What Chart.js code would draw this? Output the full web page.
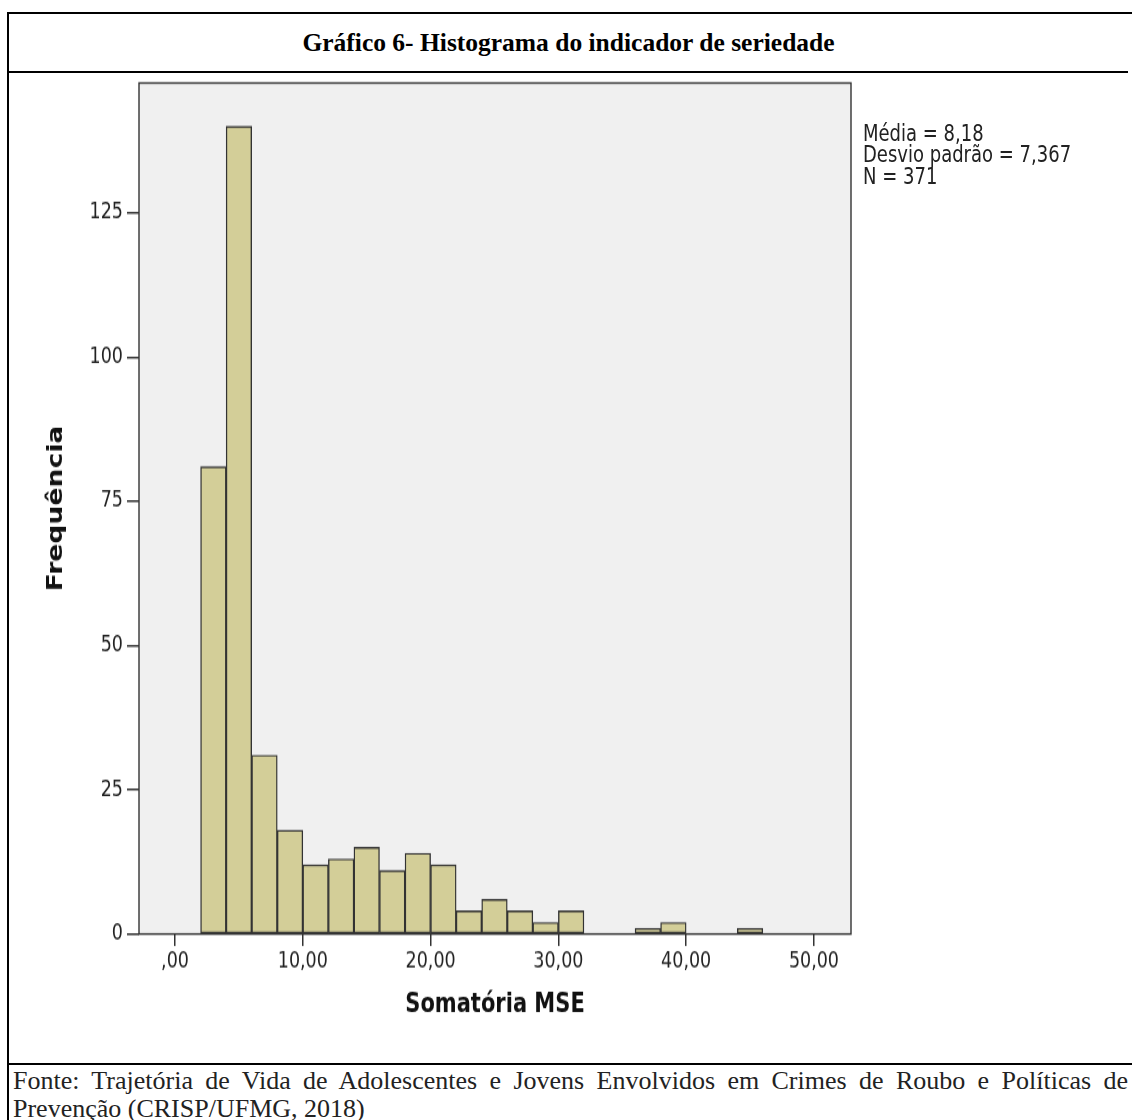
<!DOCTYPE html>
<html lang="pt">
<head>
<meta charset="utf-8">
<title>Gráfico 6- Histograma do indicador de seriedade</title>
<script src="https://cdn.jsdelivr.net/npm/chart.js@4"></script>
<style>
    html, body { margin: 0; padding: 0; background: #fff; }
    body { width: 1132px; height: 1120px; position: relative; overflow: hidden; }
    .line { position: absolute; background: #000; }
    #titulo {
        position: absolute; left: 9px; top: 14px; width: 1119px; height: 58px;
        line-height: 58px; text-align: center;
        font-family: "Liberation Serif", "Times New Roman", serif; font-weight: bold; font-size: 25.5px; color: #000;
    }
    #fonte {
        position: absolute; left: 13px; top: 1067px; width: 1115px;
        font-family: "Liberation Serif", "Times New Roman", serif; font-size: 26px; line-height: 28px; color: #222;
        text-align: justify;
    }
    /* a imagem do SPSS esta esticada na vertical no original */
    #wrap {
        position: absolute; left: 0; top: 76px; width: 1132px; height: 759px;
        transform: scaleY(1.27); transform-origin: 0 0;
    }
    #stats {
        position: absolute; left: 863px; top: 36px;
        font-family: "DejaVu Sans", sans-serif; font-size: 18px; line-height: 17px; color: #222;
    }
</style>
</head>
<body>
<div class="line" style="left:7px; top:12px; width:1125px; height:2px;"></div>
<div class="line" style="left:7px; top:12px; width:2px; height:1108px;"></div>
<div class="line" style="left:7px; top:71px; width:1121px; height:1.5px;"></div>
<div class="line" style="left:7px; top:1063px; width:1125px; height:2px;"></div>

<div id="titulo">Gráfico 6- Histograma do indicador de seriedade</div>

<div id="wrap">
    <canvas id="histograma" width="1132" height="759"></canvas>
    <div id="stats">Média = 8,18<br>Desvio padrão = 7,367<br>N = 371</div>
</div>

<div id="fonte">Fonte: Trajetória de Vida de Adolescentes e Jovens Envolvidos em Crimes de Roubo e Políticas de Prevenção (CRISP/UFMG, 2018)</div>

<script>
// centro de cada classe (largura 2) e frequencias
var binCenters = [3, 5, 7, 9, 11, 13, 15, 17, 19, 21, 23, 25, 27, 29, 31, 33, 35, 37, 39, 41, 43, 45];
var frequencias = [81, 140, 31, 18, 12, 13, 15, 11, 14, 12, 4, 6, 4, 2, 4, 0, 0, 1, 2, 0, 0, 1];

var xTickValues = [0, 10, 20, 30, 40, 50];
var xTickLabels = [",00", "10,00", "20,00", "30,00", "40,00", "50,00"];
var yTickValues = [0, 25, 50, 75, 100, 125];
var yTickLabels = ["0", "25", "50", "75", "100", "125"];

document.addEventListener("DOMContentLoaded", function () {
    var ctx = document.getElementById("histograma").getContext("2d");

    var pontos = [];
    for (var i = 0; i < binCenters.length; i++) {
        pontos.push({ x: binCenters[i], y: frequencias[i] });
    }

    // fundo cinza e moldura da area do grafico
    var fundoPlugin = {
        id: "fundo",
        beforeDraw: function (chart) {
            var a = chart.chartArea;
            chart.ctx.save();
            chart.ctx.fillStyle = "#f0f0f0";
            chart.ctx.fillRect(a.left, a.top, a.right - a.left, a.bottom - a.top);
            chart.ctx.restore();
        },
        afterDatasetsDraw: function (chart) {
            var a = chart.chartArea;
            chart.ctx.save();
            chart.ctx.strokeStyle = "#333";
            chart.ctx.lineWidth = 1.4;
            chart.ctx.strokeRect(a.left, a.top, a.right - a.left, a.bottom - a.top);
            chart.ctx.restore();
        },
    };

    var tickFont = { family: "'DejaVu Sans', sans-serif", size: 17.5 };
    var titleFont = { family: "'DejaVu Sans', sans-serif", size: 21, weight: "bold" };

    new Chart(ctx, {
        type: "bar",
        data: {
            datasets: [
                {
                    label: "Frequência",
                    data: pontos,
                    backgroundColor: "#d3ce98",
                    borderColor: "#333",
                    borderWidth: 1.4,
                    borderSkipped: false,
                    barPercentage: 1,
                    categoryPercentage: 1,
                },
            ],
        },
        options: {
            responsive: false,
            animation: false,
            layout: { padding: { top: 5.5, right: 281, left: 0, bottom: 0 } },
            plugins: {
                legend: { display: false },
                tooltip: { enabled: false },
            },
            scales: {
                x: {
                    type: "linear",
                    offset: false,
                    min: -2.82,
                    max: 52.9,
                    afterBuildTicks: function (axis) {
                        axis.ticks = xTickValues.map(function (v) { return { value: v }; });
                    },
                    afterFit: function (axis) {
                        axis.height = 83.4;
                        axis.paddingLeft = 0;
                        axis.paddingRight = 0;
                    },
                    ticks: {
                        font: tickFont,
                        color: "#222",
                        padding: 2,
                        maxRotation: 0,
                        callback: function (value) {
                            return xTickLabels[xTickValues.indexOf(value)];
                        },
                    },
                    grid: {
                        offset: false,
                        drawOnChartArea: false,
                        drawTicks: true,
                        tickLength: 9.5,
                        color: "#333",
                        lineWidth: 1.5,
                    },
                    border: { display: false },
                    title: {
                        display: true,
                        text: "Somatória MSE",
                        font: titleFont,
                        color: "#111",
                        padding: { top: 0, bottom: 14.9 },
                    },
                },
                y: {
                    min: 0,
                    max: 147.5,
                    afterBuildTicks: function (axis) {
                        axis.ticks = yTickValues.map(function (v) { return { value: v }; });
                    },
                    afterFit: function (axis) {
                        axis.width = 139;
                        axis.paddingTop = 0;
                        axis.paddingBottom = 0;
                    },
                    ticks: {
                        font: tickFont,
                        color: "#222",
                        padding: 4,
                        callback: function (value) {
                            return yTickLabels[yTickValues.indexOf(value)];
                        },
                    },
                    grid: {
                        drawOnChartArea: false,
                        drawTicks: true,
                        tickLength: 12,
                        color: "#333",
                        lineWidth: 1.5,
                    },
                    border: { display: false },
                    title: {
                        display: true,
                        text: "Frequência",
                        font: titleFont,
                        color: "#111",
                        padding: { top: 44.4, bottom: 0 },
                    },
                },
            },
        },
        plugins: [fundoPlugin],
    });
});
</script>
</body>
</html>
